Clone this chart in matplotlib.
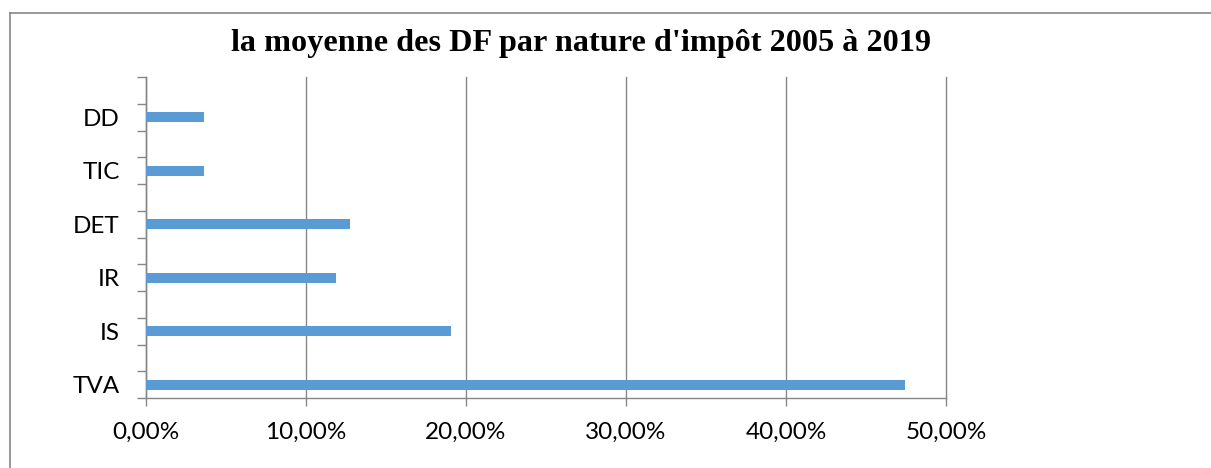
import matplotlib
matplotlib.use("Agg")
import matplotlib.pyplot as plt
from matplotlib.lines import Line2D
from matplotlib.ticker import FuncFormatter

# moyenne des DF par nature d'impôt (en %)
categories = ["TVA", "IS", "IR", "DET", "TIC", "DD"]
values = [47.45, 19.05, 11.85, 12.72, 3.63, 3.63]
x_ticks = [0, 10, 20, 30, 40, 50]
title = "la moyenne des DF par nature d'impôt 2005 à 2019"

bar_color = "#5B9BD5"
line_color = "#868686"

fig = plt.figure(figsize=(12.11, 4.68), dpi=100)
ax = fig.add_axes([146 / 1211, 1 - 398 / 468, 800 / 1211, 321 / 468])

# each category sits in every second slot, like the original Excel chart
pos = [2 * i for i in range(len(categories))]
ax.barh(pos, values, height=0.375, color=bar_color, zorder=3)

ax.set_xlim(0, 50)
ax.set_ylim(-0.5, 11.5)
ax.set_xticks(x_ticks)
ax.xaxis.set_major_formatter(FuncFormatter(lambda v, p: f"{v:.2f}%".replace(".", ",")))
ax.set_yticks(pos)
ax.set_yticklabels(categories)
ax.set_yticks([p - 0.5 for p in range(13)], minor=True)

ax.grid(axis="x", color=line_color, linewidth=1.0, zorder=0)
for gl in ax.xaxis.get_gridlines():
    gl.set_clip_on(False)
for side in ["top", "right"]:
    ax.spines[side].set_visible(False)
for side in ["left", "bottom"]:
    ax.spines[side].set_color(line_color)
    ax.spines[side].set_linewidth(1.0)

ax.tick_params(axis="y", which="major", length=0, pad=19)
ax.tick_params(axis="y", which="minor", length=6.5, color=line_color, width=1.0)
ax.tick_params(axis="x", length=6, color=line_color, width=1.0, pad=11.5)
for lab in ax.get_xticklabels() + ax.get_yticklabels():
    lab.set_fontfamily("Lato")
    lab.set_fontsize(17.5)
    lab.set_color("#000000")

fig.text(581 / 1211, 1 - 43 / 468, title, ha="center", va="center",
         fontfamily="Liberation Serif", fontweight="bold", fontsize=23.2)

# chart frame (top and left edges visible)
fig.add_artist(Line2D([10.5 / 1211, 1.0], [1 - 12.5 / 468] * 2,
                      transform=fig.transFigure, color=line_color, linewidth=1.2))
fig.add_artist(Line2D([10.5 / 1211] * 2, [0.0, 1 - 12.5 / 468],
                      transform=fig.transFigure, color=line_color, linewidth=1.2))

fig.savefig("out.png", dpi=100)
